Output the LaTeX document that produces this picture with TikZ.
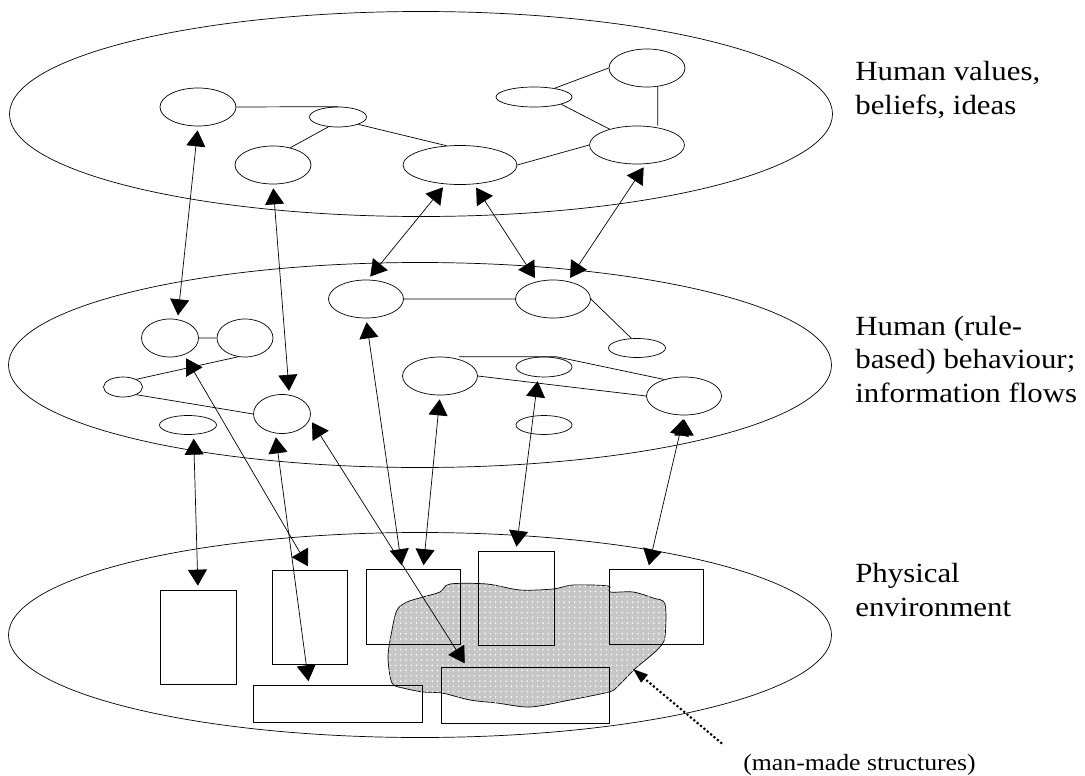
\documentclass[tikz,border=0pt]{standalone}
\usepackage{fontspec}
\setmainfont{Liberation Serif}[FakeStretch=1.11]
\usetikzlibrary{shapes.geometric, arrows.meta, patterns}
\tikzset{
	line width=1.1pt,
	>={Triangle[length=3.2mm, width=3.8mm]},
	plane/.style={ellipse, draw, inner sep=0pt, minimum width=164.6mm, minimum height=41mm},
	idea/.style 2 args={ellipse, draw, inner sep=0pt, minimum width=#1*0.2mm, minimum height=#2*0.2mm},
	thing/.style 2 args={rectangle, draw, inner sep=0pt, minimum width=#1*0.2mm, minimum height=#2*0.2mm},
	link/.style={<->, shorten <=0.8mm, shorten >=0.8mm},
	mass/.style={draw, fill=gray!45, postaction={pattern=dots, pattern color=white}},
	pointer/.style={-{Triangle[length=3mm, width=2mm]}, line width=1.2pt, dash pattern=on 1.2pt off 1.3pt},
	note/.style={align=left, inner sep=0pt, font=\fontsize{15.8}{18.8}\selectfont}}

\begin{document}
\begin{tikzpicture}[x=0.2mm, y=-0.2mm]
	\useasboundingbox (0,0) rectangle (1085,776);
	
	% the three planes
	\node[plane] (top) at (421,114) {};
	\node[plane] (mid) at (420,365) {};
	\node[plane] (bot) at (420,635) {};
	
	% man-made structures
	\draw[mass] plot[smooth cycle, tension=0.5] coordinates {
		(450,584) (487,584) (520,590) (553,589) (573,585) (608,586) (610,592)
		(633,592) (653,598) (665,604) (665,637) (659,648) (648,658) (637,667)
		(627,677) (617,687) (609,692) (570,700) (530,707) (497,703) (470,700)
		(442,693) (423,692) (403,688) (392,683) (388,657) (392,630) (397,610)
		(407,602) (423,597) (440,592)};
	
	% values, beliefs, ideas
	\node[idea={76}{38}] (v1) at (198,107) {};
	\node[idea={57}{20}] (v2) at (338,117) {};
	\node[idea={76}{38}] (v3) at (273,165) {};
	\node[idea={114}{39}] (v4) at (460,165) {};
	\node[idea={76}{20}] (v5) at (534,97) {};
	\node[idea={76}{38}] (v6) at (647,68) {};
	\node[idea={95}{38}] (v7) at (637,145) {};
	
	\draw (v1.east) -- (v2.north)
		(v2.226) -- (v3.45)
		(v2.340) -- (v4.125)
		(v4.east) -- (v7.west)
		(v5.23) -- (v6.west)
		(v5.345) -- (v7.150)
		(v6.300) -- (v6.300 |- v7.north);
	
	% behaviour, information flows
	\node[idea={75}{38}] (b1) at (366,299) {};
	\node[idea={75}{38}] (b2) at (553,299) {};
	\node[idea={57}{19}] (b3) at (637,348) {};
	\node[idea={57}{38}] (b4) at (170,338) {};
	\node[idea={56}{38}] (b5) at (245,338) {};
	\node[idea={39}{20}] (b6) at (123,387) {};
	\node[idea={57}{39}] (b7) at (282,414) {};
	\node[idea={57}{19}] (b8) at (188,425) {};
	\node[idea={75}{38}] (b9) at (440,376) {};
	\node[idea={56}{20}] (b10) at (544,367) {};
	\node[idea={75}{38}] (b11) at (684,396) {};
	\node[idea={56}{19}] (b12) at (544,425) {};
	
	\draw (b1.east) -- (b2.west)
		(b2.east) -- (b3.120)
		(b4.east) -- (b5.west)
		(b6.30) -- (b5.250)
		(b6.330) -- (b7.west)
		(b9.east) -- (b11.west);
	\draw (b9.north) ++(19,0) -- ++(97,0) -- (b11.140);
	
	% physical environment
	\node[thing={76}{94}] (p1) at (198,637) {};
	\node[thing={75}{94}] (p2) at (310,617) {};
	\node[thing={94}{75}] (p3) at (413,607) {};
	\node[thing={76}{94}] (p4) at (516,598) {};
	\node[thing={94}{75}] (p5) at (656,607) {};
	\node[thing={169}{37}] (p6) at (338,704) {};
	\node[thing={168}{56}] (p7) at (525,695) {};
	
	\draw[link]
		(v1.south) edge (b4.68)
		(v3.south) edge (b7.69)
		(v4.233) edge (b1.85)
		(v4.306) edge (b2.132)
		(v7.295) edge (b2.50)
		(b8.300) edge (p1.north)
		(b4.310) edge (p2.north)
		(b7.251) edge (p6.147)
		(b7.350) edge (p7.154)
		(b1.south) edge (p3.106)
		(b9.south) edge (p3.75)
		(b10.240) edge (p4.north)
		(b11.south) edge (p5.102);
	
	% labels
	\node[note, anchor=base west] (vals) at (855,114) {Human values,\\beliefs, ideas};
	\node[note, anchor=base west] (rules) at (855,402) {Human (rule-\\based) behaviour;\\information flows};
	\node[note, anchor=base west] (phys) at (855,616) {Physical\\environment};
	\node[inner sep=0pt, anchor=base west, font=\fontsize{13.2}{15}\selectfont] (tag) at (743,770) {(man-made structures)};
	\coordinate (rim) at (633,669);
	\draw[pointer] (tag.north west) ++(-21,-10) -- (rim);
\end{tikzpicture}
\end{document}
